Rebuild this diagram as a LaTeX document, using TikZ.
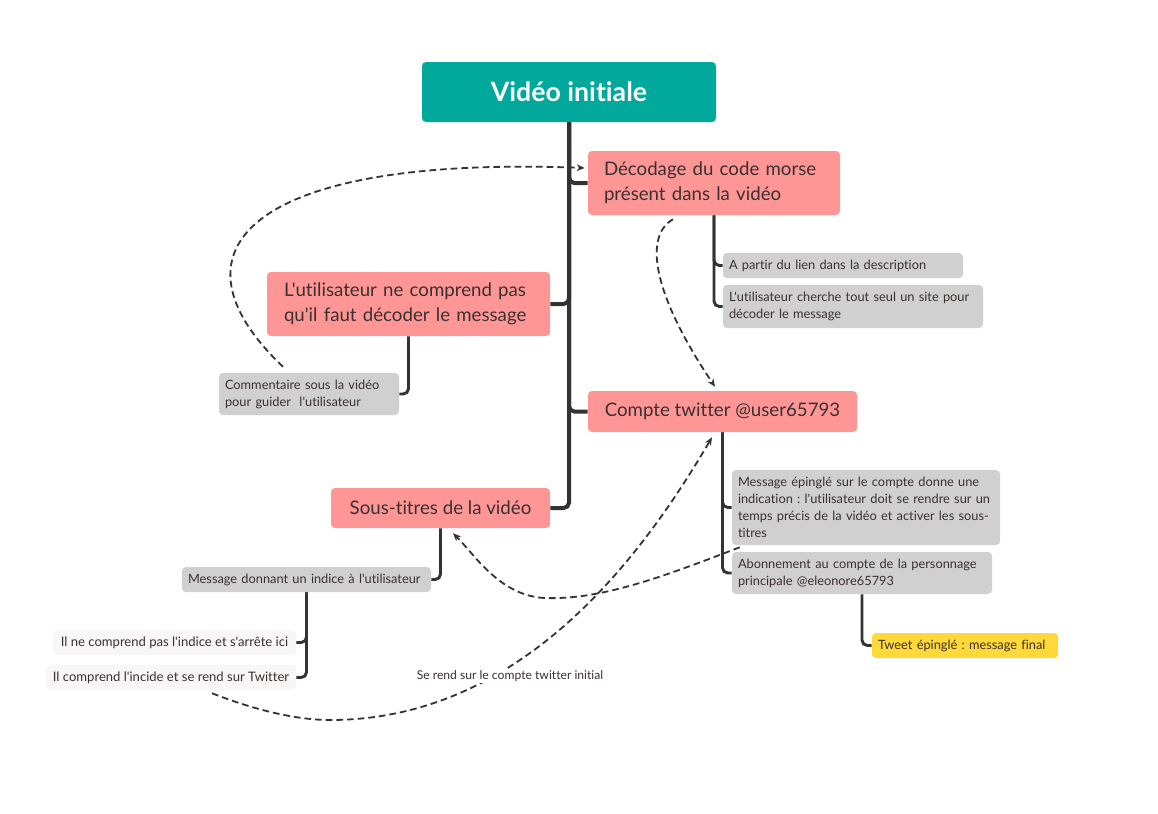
\documentclass[tikz,border=0pt]{standalone}
\usepackage{fontspec}
\setmainfont{Lato}[Ligatures={NoCommon,TeXOff}]
\frenchspacing
\usetikzlibrary{arrows.meta}
\definecolor{teal}{HTML}{00A99B}
\definecolor{pinkc}{HTML}{FF9696}
\definecolor{grayc}{HTML}{D0D0D0}
\definecolor{yellowc}{HTML}{FFD83A}
\definecolor{lightc}{HTML}{F8F6F6}
\definecolor{linec}{HTML}{333333}
\definecolor{textc}{HTML}{3A3030}
\tikzset{
  box/.style={rounded corners=3pt, inner ysep=0pt, align=left, text=textc},
  titlebox/.style={box, fill=teal, text=white, align=center, font=\fontsize{20}{24}\selectfont\bfseries},
  pinkbox/.style={box, fill=pinkc, font=\fontsize{14}{18.75}\selectfont},
  pinkone/.style={box, fill=pinkc, align=center, font=\fontsize{14}{18.75}\selectfont},
  graybox/.style={box, fill=grayc, inner xsep=4.5pt, font=\fontsize{9.6}{12.75}\selectfont},
  yellowbox/.style={box, fill=yellowc, inner xsep=4.5pt, font=\fontsize{9.6}{12.75}\selectfont},
  lightbox/.style={box, fill=lightc, inner xsep=4pt, align=center, font=\fontsize{9.8}{12.75}\selectfont},
  trunk/.style={draw=linec, line width=3pt, rounded corners=4pt},
  branch/.style={draw=linec, line width=2.2pt, rounded corners=4pt},
  rel/.style={draw=linec, line width=1.35pt, dash pattern=on 5pt off 3pt, -{Stealth[length=6pt,width=5pt]}},
}
\begin{document}
\begin{tikzpicture}[x=0.75pt,y=-0.75pt]
\useasboundingbox (0,0) rectangle (1158,814);
% nodes
\node[titlebox, minimum width=220.5pt, minimum height=45pt] (title) at (569,92) {Vidéo initiale};
\node[pinkbox, minimum width=189pt, minimum height=48pt, inner xsep=12pt, text width=165pt] (dec) at (714,183) {Décodage du code morse\\présent dans la vidéo};
\node[pinkbox, minimum width=212.25pt, minimum height=48pt, inner xsep=12.75pt, text width=186.75pt] (util) at (408.5,304) {L'utilisateur ne comprend pas\\qu'il faut décoder le message};
\node[pinkone, minimum width=201.75pt, minimum height=30.75pt] (compte) at (722.5,411.5) {Compte twitter @user65793};
\node[pinkone, minimum width=164.25pt, minimum height=30pt] (sous) at (440.5,508) {Sous-titres de la vidéo};
\node[graybox, minimum width=180pt, minimum height=18.75pt, text width=171pt] (apartir) at (843,265.5) {A partir du lien dans la description};
\node[graybox, minimum width=195pt, minimum height=32.25pt, text width=186pt] (cherche) at (853,306.5) {L'utilisateur cherche tout seul un site pour\\décoder le message};
\node[graybox, minimum width=135pt, minimum height=31.5pt, text width=126pt] (comment) at (309,394) {Commentaire sous la vidéo\\pour guider\ \ l'utilisateur};
\node[graybox, minimum width=201pt, minimum height=56.25pt, text width=192pt] (epingle) at (866,507.5) {Message épinglé sur le compte donne une\\indication : l'utilisateur doit se rendre sur un\\temps précis de la vidéo et activer les sous-\\titres};
\node[graybox, minimum width=195pt, minimum height=31.5pt, text width=186pt] (abonn) at (862,573) {Abonnement au compte de la personnage\\principale @eleonore65793};
\node[graybox, minimum width=186.75pt, minimum height=18.75pt, text width=177.75pt] (indice) at (306.5,579.5) {Message donnant un indice à l'utilisateur};
\node[yellowbox, minimum width=139.5pt, minimum height=18.75pt, text width=130.5pt] (tweet) at (965,645.5) {Tweet épinglé : message final};
\node[lightbox, minimum width=182.25pt, minimum height=18.75pt] (nepas) at (174.5,642.5) {Il ne comprend pas l'indice et s'arrête ici};
\node[lightbox, minimum width=187.5pt, minimum height=18.75pt] (comprend) at (171,677.5) {Il comprend l'incide et se rend sur Twitter};
% tree connectors
\draw[trunk] (title.south) |- (dec.west);
\draw[trunk] (title.south) |- (util.east);
\draw[trunk] (title.south) |- (compte.west);
\draw[trunk] (title.south) |- (sous.east);
\draw[branch] (dec.south) |- (apartir.west);
\draw[branch] (dec.south) |- (cherche.west);
\draw[branch] (util.south) |- (comment.east);
\draw[branch] (compte.south) |- (epingle.west);
\draw[branch] (compte.south) |- (abonn.west);
\draw[branch] (abonn.south) |- (tweet.west);
\draw[branch] (sous.south) |- (indice.east);
\draw[branch] (indice.south) |- (nepas.east);
\draw[branch] (indice.south) |- (comprend.east);
% relationship connectors
\draw[rel] ([shift={(-26,-6)}]comment.north) .. controls (160,250) and (250,155) .. ([shift={(-3,-15)}]dec.west);
\draw[rel] ([shift={(-41,4)}]dec.south) .. controls (645,235) and (650,290) .. ([shift={(-7.5,-4)}]compte.north);
\draw[rel] ([shift={(8,2)}]epingle.south west) .. controls (660,578) and (600,600) .. (545,598) .. controls (500,596) and (475,555) .. ([shift={(12.5,5)}]sous.south);
\draw[rel] ([shift={(41,3)}]comprend.south) .. controls (260,712) and (300,720) .. (330,720) .. controls (520,720) and (640,560) .. ([shift={(-10.5,5)}]compte.south);
\node[fill=white, inner xsep=0pt, inner ysep=1pt, text=textc, font=\fontsize{9.1}{10}\selectfont] (label) at (510,676) {Se rend sur le compte twitter initial};
\end{tikzpicture}
\end{document}
